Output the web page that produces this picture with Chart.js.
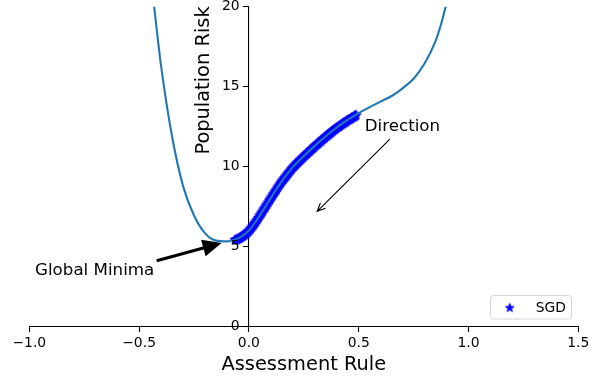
<!DOCTYPE html>
<html>
<head>
<meta charset="utf-8">
<script src="https://cdn.jsdelivr.net/npm/chart.js@4.4.1/dist/chart.umd.min.js"></script>
<style>
  html, body { margin: 0; padding: 0; background: #fff; }
  #wrap { width: 607px; height: 381px; }
</style>
</head>
<body>
<div id="wrap"><canvas id="chart" width="607" height="381"></canvas></div>
<script>
// ---- data ----
const curveX = [-0.44, -0.43, -0.40, -0.35, -0.30, -0.25, -0.20, -0.15, -0.10, -0.05, -0.025, 0.00, 0.025, 0.05, 0.10,
                0.15, 0.20, 0.25, 0.30, 0.35, 0.40, 0.45, 0.50, 0.55, 0.60, 0.65, 0.70, 0.75, 0.80, 0.85, 0.875, 0.90, 0.91];
const curveY = [20.9, 19.8, 16.3, 11.9, 8.8, 6.95, 5.85, 5.38, 5.33, 5.52, 5.72, 6.02, 6.45, 6.97, 8.05,
                9.1, 9.97, 10.66, 11.3, 11.9, 12.45, 12.92, 13.35, 13.72, 14.07, 14.42, 14.9, 15.5, 16.45, 17.85, 18.9, 20.2, 20.7];

// SGD iterates (dense, they form a band along the curve)
const sgdX = [-0.0625, -0.05625, -0.05, -0.04375, -0.0375, -0.03125, -0.025, -0.01875, -0.0125, -0.00625,
              0, 0.00625, 0.0125, 0.01875, 0.025, 0.03125, 0.0375, 0.04375, 0.05, 0.05625,
              0.0625, 0.06875, 0.075, 0.08125, 0.0875, 0.09375, 0.1, 0.10625, 0.1125, 0.11875,
              0.125, 0.13125, 0.1375, 0.14375, 0.15, 0.15625, 0.1625, 0.16875, 0.175, 0.18125,
              0.1875, 0.19375, 0.2, 0.20625, 0.2125, 0.21875, 0.225, 0.23125, 0.2375, 0.24375,
              0.25, 0.25625, 0.2625, 0.26875, 0.275, 0.28125, 0.2875, 0.29375, 0.3, 0.30625,
              0.3125, 0.31875, 0.325, 0.33125, 0.3375, 0.34375, 0.35, 0.35625, 0.3625, 0.36875,
              0.375, 0.38125, 0.3875, 0.39375, 0.4, 0.40625, 0.4125, 0.41875, 0.425, 0.43125,
              0.4375, 0.44375, 0.45, 0.45625, 0.4625, 0.46875, 0.475, 0.48125, 0.4875];
const sgdY = [5.45, 5.47, 5.5, 5.55, 5.6, 5.66, 5.72, 5.78, 5.85, 5.93,
              6.02, 6.12, 6.22, 6.33, 6.45, 6.57, 6.7, 6.83, 6.97, 7.1,
              7.23, 7.37, 7.5, 7.64, 7.78, 7.92, 8.05, 8.18, 8.32, 8.45,
              8.58, 8.72, 8.85, 8.98, 9.1, 9.21, 9.32, 9.43, 9.54, 9.65,
              9.76, 9.87, 9.97, 10.06, 10.15, 10.24, 10.32, 10.41, 10.49, 10.58,
              10.66, 10.74, 10.82, 10.9, 10.98, 11.06, 11.14, 11.22, 11.3, 11.38,
              11.45, 11.53, 11.6, 11.68, 11.75, 11.83, 11.9, 11.97, 12.04, 12.11,
              12.18, 12.25, 12.32, 12.39, 12.45, 12.51, 12.57, 12.63, 12.69, 12.75,
              12.8, 12.86, 12.92, 12.97, 13.02, 13.08, 13.13, 13.18, 13.24];

const xTicks = [-1.0, -0.5, 0.0, 0.5, 1.0, 1.5];
const yTicks = [0, 5, 10, 15, 20];

// annotations, in data units
const minimaText  = { x: -0.974, y: 3.25, text: 'Global Minima' };
const minimaArrow = { x0: -0.420, y0: 4.125, x1: -0.124, y1: 5.23 };
const dirText     = { x: 0.699, y: 12.21, text: 'Direction' };
const dirArrow    = { x0: 0.642, y0: 11.73, x1: 0.311, y1: 7.21 };

const FONT = "'DejaVu Sans', sans-serif";
const BLUE = '#1f77b4';
const TICK_FONT = '13.9px ' + FONT;

// filled 5-point star like matplotlib's '*' (with its edge)
function makeStar(r, color, edge){
  const c = document.createElement('canvas');
  const s = Math.ceil(r * 2 + edge + 2);
  c.width = s; c.height = s;
  const g = c.getContext('2d');
  g.translate(s / 2, s / 2 + r * 0.1);
  g.beginPath();
  for (let i = 0; i < 10; i++) {
    const rad = i % 2 === 0 ? r : r * 0.382;
    const a = -Math.PI / 2 + i * Math.PI / 5;
    g.lineTo(rad * Math.cos(a), rad * Math.sin(a));
  }
  g.closePath();
  g.fillStyle = color;
  g.fill();
  g.lineJoin = 'round';
  g.lineWidth = edge;
  g.strokeStyle = color;
  g.stroke();
  return c;
}
const star = makeStar(4.3, '#0000ff', 2.2);
const legendStar = makeStar(4.2, '#0000ff', 1.2);

const toPts = (xs, ys) => xs.map((v, i) => ({ x: v, y: ys[i] }));

function arrowHeadLine(ctx, x0, y0, x1, y1){
  const a = Math.atan2(y1 - y0, x1 - x0);
  ctx.beginPath();
  ctx.moveTo(x0, y0); ctx.lineTo(x1, y1);
  const L = 9, w = 0.42;
  ctx.moveTo(x1 - L * Math.cos(a - w), y1 - L * Math.sin(a - w));
  ctx.lineTo(x1, y1);
  ctx.lineTo(x1 - L * Math.cos(a + w), y1 - L * Math.sin(a + w));
  ctx.stroke();
}

function fancyArrow(ctx, x0, y0, x1, y1){
  const a = Math.atan2(y1 - y0, x1 - x0);
  const len = Math.hypot(x1 - x0, y1 - y0);
  const sw = 1.6, hw = 8.5, hl = 19;
  ctx.save();
  ctx.translate(x0, y0);
  ctx.rotate(a);
  ctx.beginPath();
  ctx.moveTo(0, -sw); ctx.lineTo(len - hl, -sw); ctx.lineTo(len - hl, -hw);
  ctx.lineTo(len, 0);
  ctx.lineTo(len - hl, hw); ctx.lineTo(len - hl, sw); ctx.lineTo(0, sw);
  ctx.closePath();
  ctx.fillStyle = '#000';
  ctx.fill();
  ctx.restore();
}

const extras = {
  id: 'extras',
  afterDraw(chart){
    const { ctx, chartArea, scales: { x, y } } = chart;
    const axisX = x.getPixelForValue(0);
    ctx.save();
    ctx.fillStyle = '#000';
    ctx.strokeStyle = '#000';

    // y tick labels, right aligned left of the centred spine
    ctx.font = TICK_FONT;
    ctx.textAlign = 'right';
    ctx.textBaseline = 'middle';
    y.ticks.forEach(t => ctx.fillText(String(t.value), axisX - 9.3, y.getPixelForValue(t.value)));

    // axis titles
    ctx.font = '19.4px ' + FONT;
    ctx.textAlign = 'center';
    ctx.textBaseline = 'alphabetic';
    ctx.fillText('Assessment Rule', (chartArea.left + chartArea.right) / 2, chartArea.bottom + 43.3);
    ctx.save();
    ctx.translate(axisX - 39.8, 80.5);
    ctx.rotate(-Math.PI / 2);
    ctx.fillText('Population Risk', 0, 0);
    ctx.restore();

    // annotations
    ctx.font = '16.7px ' + FONT;
    ctx.textAlign = 'left';
    ctx.fillText(minimaText.text, x.getPixelForValue(minimaText.x), y.getPixelForValue(minimaText.y));
    fancyArrow(ctx, x.getPixelForValue(minimaArrow.x0), y.getPixelForValue(minimaArrow.y0),
                    x.getPixelForValue(minimaArrow.x1), y.getPixelForValue(minimaArrow.y1));
    ctx.textAlign = 'center';
    ctx.fillText(dirText.text, x.getPixelForValue(dirText.x), y.getPixelForValue(dirText.y));
    ctx.lineWidth = 1.1;
    arrowHeadLine(ctx, x.getPixelForValue(dirArrow.x0), y.getPixelForValue(dirArrow.y0),
                       x.getPixelForValue(dirArrow.x1), y.getPixelForValue(dirArrow.y1));

    // legend (lower right)
    const lx = 490.5, ly = 295.5, lw = 81, lh = 23.5, r = 3;
    ctx.beginPath();
    ctx.roundRect(lx, ly, lw, lh, r);
    ctx.fillStyle = 'rgba(255,255,255,0.8)';
    ctx.fill();
    ctx.strokeStyle = '#d6d6d6';
    ctx.lineWidth = 1;
    ctx.stroke();
    ctx.drawImage(legendStar, 509.7 - legendStar.width / 2, 307.5 - legendStar.height / 2);
    ctx.fillStyle = '#000';
    ctx.font = TICK_FONT;
    ctx.textAlign = 'left';
    ctx.textBaseline = 'middle';
    ctx.fillText(chart.data.datasets[1].label, 535.7, 308);
    ctx.restore();
  }
};

const axisCommon = {
  type: 'linear',
  grid: { display: true, drawOnChartArea: false, drawTicks: true, tickLength: 5, tickWidth: 1.1, tickColor: '#000' },
  border: { display: true, color: '#000', width: 1.1 },
  ticks: { color: '#000', font: { family: FONT, size: 13.9 }, padding: 3 }
};

new Chart(document.getElementById('chart'), {
  type: 'scatter',
  data: {
    datasets: [
      {
        label: 'curve',
        type: 'line',
        data: toPts(curveX, curveY),
        borderColor: BLUE,
        borderWidth: 2.1,
        pointRadius: 0,
        cubicInterpolationMode: 'monotone',
        fill: false,
        order: 0
      },
      {
        label: 'SGD',
        data: toPts(sgdX, sgdY),
        pointStyle: star,
        pointRadius: 5,
        order: 1
      }
    ]
  },
  options: {
    responsive: false,
    animation: false,
    devicePixelRatio: 1,
    layout: { padding: { left: 29.3, right: 28.7, top: 6.7, bottom: 54.3 } },
    plugins: { legend: { display: false }, tooltip: { enabled: false } },
    scales: {
      x: {
        ...axisCommon,
        position: { y: 0 },
        min: -1, max: 1.5,
        afterBuildTicks: s => { s.ticks = xTicks.map(v => ({ value: v })); },
        ticks: { ...axisCommon.ticks, callback: v => v.toFixed(1).replace('-', '\u2212') }
      },
      y: {
        ...axisCommon,
        position: { x: 0 },
        min: 0, max: 20,
        afterBuildTicks: s => { s.ticks = yTicks.map(v => ({ value: v })); },
        ticks: { ...axisCommon.ticks, display: false }
      }
    }
  },
  plugins: [extras]
});
</script>
</body>
</html>
